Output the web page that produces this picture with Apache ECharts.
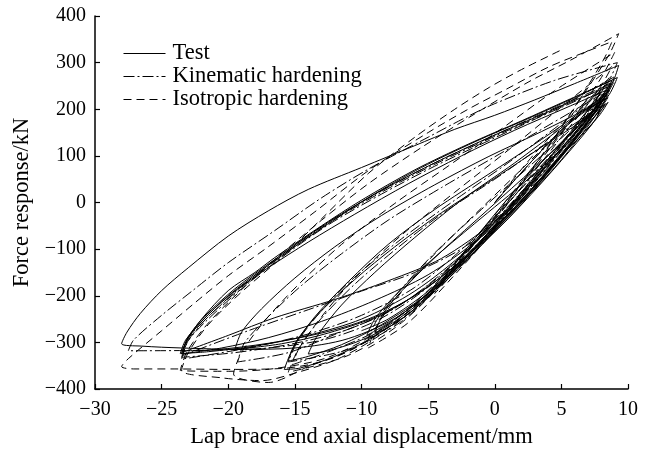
<!DOCTYPE html>
<html>
<head>
<meta charset="utf-8">
<script src="https://cdn.jsdelivr.net/npm/echarts@6/dist/echarts.min.js"></script>
<style>
  html, body { margin: 0; padding: 0; background: #fff; }
  #chart { width: 645px; height: 449px; }
</style>
</head>
<body>
<div id="chart"></div>
<script>
// Axis ticks
const xTicks = [-30, -25, -20, -15, -10, -5, 0, 5, 10];
const yTicks = [-400, -300, -200, -100, 0, 100, 200, 300, 400];

// Series names
const seriesNames = ['Test', 'Kinematic hardening', 'Isotropic hardening'];

// Measured hysteresis (displacement mm, force kN)
const testCurve = [
  [0,0],[2.5,80],[5,155],[7,200],[8,218],
  [7.2,180],[5.5,115],[3,30],[0.5,-45],[-2,-115],[-3.5,-160],
  [-2.8,-125],[-1,-60],[1.5,25],[4.5,115],[7,185],[8.2,222],
  [7.3,185],[5,100],[2,5],[-1.5,-100],[-5,-200],[-7.5,-255],[-9,-280],
  [-8.3,-235],[-6.5,-175],[-4,-105],[-0.5,-15],[3,75],[6,155],[8.3,228],
  [7.2,180],[4.5,85],[1,-30],[-3,-150],[-7,-250],[-10,-295],[-12.5,-318],[-14,-325],
  [-13.3,-285],[-11.5,-220],[-9,-150],[-6,-75],[-2.5,5],[1.5,85],[5,160],[8.4,232],
  [7.5,195],[5,105],[2,5],[-2,-110],[-6,-228],[-9.6,-296],[-12,-330],[-14.6,-355],[-15.8,-358],
  [-15.1,-310],[-13.5,-245],[-11,-170],[-8,-90],[-4.5,-15],[-0.5,60],[3.5,135],[7,205],[8.6,240],
  [8,205],[6.5,145],[4.5,75],[2,0],[-1.5,-85],[-5,-155],[-9,-210],[-13,-255],[-17,-290],[-20.5,-312],[-23.5,-325],
  [-23.1,-295],[-22,-250],[-20,-189],[-18,-150],[-16.5,-118],[-13,-50],[-10,5],[-6,70],[-2,125],[2,175],[5.5,220],[8.8,262],
  [8.2,222],[6.5,155],[4,65],[1,-30],[-3,-140],[-7,-240],[-11,-292],[-15,-312],[-19,-315],[-23.5,-312],[-26.5,-308],[-28,-303],
  [-27.6,-278],[-26.6,-238],[-25,-189],[-23,-140],[-20,-72],[-17,-18],[-14,28],[-10,75],[-6,122],[-3,157],[0,187],[3,220],[6,255],[9.3,294],
  [8.8,255],[7,185],[4.5,100],[1.5,5],[-2,-100],[-6,-190],[-10,-250],[-14,-285],[-18,-308],[-21.5,-320],[-23.6,-324],
  [-23.2,-295],[-22,-255],[-20,-200],[-17,-135],[-13.5,-65],[-9.5,10],[-5.5,75],[-1.5,130],[2.5,180],[6,225],[9.2,268],
  [8.6,232],[6.5,155],[4,65],[1,-35],[-2.5,-125],[-6,-200],[-9.5,-250],[-13,-280],[-17,-302],[-21,-316],[-23.4,-318],
  [-23,-288],[-21.8,-245],[-19.5,-185],[-16.5,-122],[-13,-52],[-9,18],[-5,78],[-1,132],[3,182],[6.5,225],[8.7,250],
  [7.8,205],[5.5,120],[2.5,20],[-1,-85],[-4.5,-170],[-8.5,-240],[-12.5,-280],[-16,-303],[-19.5,-315],
  [-19,-278],[-17.5,-228],[-15,-162],[-12,-95],[-8.5,-28],[-4.5,38],[-0.5,98],[3.5,152],[7,202],[8.5,225],
  [7.5,185],[5,100],[2,5],[-1.5,-100],[-5,-195],[-8.5,-262],[-11.5,-305],[-14,-330],[-15.5,-340],
  [-14.9,-298],[-13.2,-238],[-10.5,-165],[-7.5,-95],[-4,-22],[0,52],[4,128],[7.5,192],[8.3,212],
  [7.3,168],[5,90],[2,-5],[-1.5,-105],[-4.5,-185],[-7.5,-250],[-9.6,-285],
  [-9,-250],[-7.5,-200],[-5,-130],[-1.5,-45],[2.5,50],[6,140],[8.5,215],
  [7.8,185],[5.5,115],[3,45],[0,-40],[-4,-120],[-8,-168],[-12,-208],[-16.5,-247],[-20,-285],[-23.5,-322],
  [-23,-290],[-21.5,-240],[-19.5,-190],[-17,-140],[-14,-85],[-10.5,-25],[-6.5,40],[-2.5,100],[1.5,155],[5.5,205],[8.3,240],
  [7.5,200],[5,115],[2,15],[-1.5,-95],[-5,-190],[-8,-250],[-10,-275]
];

// Kinematic hardening model
const kinematicCurve = [
  [0,0],[3,95],[6,180],[8,225],
  [7,182],[4.5,95],[1.5,-5],[-1.5,-105],[-4,-178],
  [-3,-138],[-0.5,-52],[2.5,48],[5.5,142],[8.3,235],
  [7,180],[4,85],[0.5,-35],[-3,-145],[-6.5,-240],[-9.5,-292],
  [-8.8,-250],[-7,-185],[-4.5,-108],[-1,-15],[2.5,75],[6,165],[8.5,245],
  [7.5,200],[4.5,100],[1,-20],[-3,-145],[-7,-255],[-11,-315],[-15.5,-342],
  [-14.8,-298],[-13,-232],[-10.5,-160],[-7,-78],[-3,5],[1,85],[5,170],[8.7,255],
  [7.5,205],[5,125],[2,30],[-2,-88],[-6,-182],[-10,-242],[-14,-282],[-18.5,-312],[-23.5,-336],
  [-23,-296],[-21.5,-245],[-19,-182],[-16,-115],[-12.5,-45],[-8.5,22],[-4.5,82],[0,142],[4.5,200],[9,270],
  [8,228],[6,155],[3,55],[-0.5,-55],[-4.5,-170],[-8.5,-248],[-12.5,-292],[-17,-312],[-22,-317],[-27.5,-318],
  [-27.1,-295],[-25,-242],[-22.5,-185],[-20,-129],[-16.5,-60],[-13,10],[-9.4,73],[-5,140],[-2,185],[0,212],[4.5,262],[9.2,300],
  [8.5,258],[6.5,180],[4,90],[1,-15],[-3,-128],[-7,-218],[-11,-272],[-15,-302],[-19.5,-322],[-23.5,-332],
  [-23,-296],[-21.5,-250],[-19,-185],[-16,-118],[-12.5,-48],[-8.5,18],[-4.5,78],[-0.5,132],[3.5,185],[7,230],[9,262],
  [8.2,222],[6,145],[3,50],[-0.5,-58],[-4,-155],[-8,-235],[-12,-283],[-15.5,-322],[-19.3,-342],
  [-18.8,-302],[-17,-245],[-14.5,-178],[-11.5,-110],[-8,-38],[-4,32],[0,98],[4,165],[8,232],[8.6,242],
  [7.5,198],[5,110],[2,10],[-1.5,-95],[-5,-195],[-8.5,-270],[-12,-315],[-15.2,-348],
  [-14.6,-308],[-13,-248],[-10.5,-175],[-7.5,-102],[-4,-25],[0,50],[4,130],[8,208],
  [7.5,175],[5,100],[2,10],[-2,-90],[-6,-150],[-10,-190],[-14,-230],[-18.5,-275],[-23.4,-328],
  [-23,-292],[-21.5,-245],[-19,-180],[-16,-112],[-12.5,-42],[-8.5,25],[-4.5,85],[-0.5,138],[3.5,190],[7.5,240],[8.8,255]
];

// Isotropic hardening model
const isotropicCurve = [
  [0,0],[3,105],[6,195],[8,245],
  [7,198],[4.5,110],[1.5,5],[-1.5,-100],[-4.5,-195],
  [-3.5,-148],[-1,-62],[2,45],[5,150],[8.3,252],
  [7.2,202],[4.5,105],[1,-25],[-3,-155],[-6.5,-258],[-9.5,-312],
  [-8.8,-262],[-7,-192],[-4.5,-110],[-1,-12],[2.5,85],[6,185],[8.6,268],
  [7.5,218],[4.5,110],[1,-15],[-3,-145],[-7,-258],[-11,-328],[-15.5,-364],
  [-14.8,-318],[-13,-245],[-10.5,-162],[-7,-70],[-3,22],[1,112],[5,205],[8.8,292],
  [7.8,242],[5,140],[1.5,15],[-2.5,-120],[-6.5,-235],[-10.5,-312],[-14,-352],[-17,-386],[-19.6,-368],
  [-19,-322],[-17.3,-255],[-14.8,-178],[-11.5,-90],[-7.5,-2],[-3.5,78],[0.5,158],[4.5,240],[9,322],
  [8,268],[6,185],[3,75],[-0.5,-50],[-4.5,-175],[-8.5,-272],[-12.5,-332],[-16.5,-356],[-20,-362],[-23.6,-360],
  [-23.1,-320],[-21.6,-262],[-19.3,-195],[-16.5,-122],[-13,-38],[-9.5,40],[-5.5,118],[-1.5,190],[2.5,258],[6,310],[9.3,362],
  [8.6,318],[6.5,225],[3.5,100],[0,-30],[-4,-165],[-8,-268],[-12,-332],[-16,-356],[-20,-358],[-24,-357],[-27,-357],[-28,-352],
  [-27.5,-335],[-25,-275],[-22.5,-215],[-20,-157],[-17,-95],[-13.5,-20],[-9.4,70],[-5,150],[-2,200],[1,245],[4,290],[7,325],[8.8,345],
  [8.2,308],[6.5,228],[4,118],[0.5,-15],[-3.5,-155],[-7.5,-262],[-11.5,-332],[-15,-366],[-17.5,-382],[-20.5,-376],[-23.5,-360],
  [-23,-322],[-21.5,-262],[-19,-192],[-16,-118],[-13,-35],[-9.5,62],[-6,140],[-3,200],[-0.4,247],[2,285],[5.2,330]
];

const serifFont = '"Liberation Serif", "Times New Roman", serif';
const minus = v => String(v).replace('-', '\u2212');

const chart = echarts.init(document.getElementById('chart'), null, { renderer: 'canvas' });

const lineSeries = (name, data, type) => ({
  name: name,
  type: 'line',
  data: data,
  showSymbol: false,
  symbol: 'none',
  legendIcon: 'none',
  smooth: 0.3,
  animation: false,
  lineStyle: { color: '#000', width: 1, type: type },
  itemStyle: { color: '#000' }
});

chart.setOption({
  backgroundColor: '#fff',
  animation: false,
  grid: { left: 95, right: 17, top: 16, bottom: 60, outerBoundsMode: 'none', containLabel: false },
  legend: {
    left: 118,
    top: 37,
    orient: 'vertical',
    itemWidth: 42,
    itemHeight: 12,
    itemGap: 0,
    itemStyle: { opacity: 0 },
    lineStyle: { width: 1 },
    textStyle: { fontFamily: serifFont, fontSize: 22.5, color: '#000', padding: [0, 0, 0, 2] },
    data: seriesNames.map(n => ({ name: n }))
  },
  xAxis: {
    type: 'value',
    min: -30, max: 10, interval: 5,
    name: 'Lap brace end axial displacement/mm',
    nameLocation: 'middle',
    nameGap: 37,
    nameTextStyle: { fontFamily: serifFont, fontSize: 22.5, color: '#000' },
    axisLine: { onZero: false, lineStyle: { color: '#000', width: 1.5 } },
    axisTick: { inside: true, length: 5, lineStyle: { color: '#000', width: 1.2 } },
    axisLabel: { fontFamily: serifFont, fontSize: 20, color: '#000', margin: 11, formatter: v => xTicks.includes(v) ? minus(v) : '' },
    splitLine: { show: false }
  },
  yAxis: {
    type: 'value',
    min: -400, max: 400, interval: 100,
    name: 'Force response/kN',
    nameLocation: 'middle',
    nameGap: 61,
    nameTextStyle: { fontFamily: serifFont, fontSize: 22.5, color: '#000' },
    axisLine: { show: true, onZero: false, lineStyle: { color: '#000', width: 1.5 } },
    axisTick: { show: true, inside: true, length: 5, lineStyle: { color: '#000', width: 1.2 } },
    axisLabel: { fontFamily: serifFont, fontSize: 20, color: '#000', margin: 9, formatter: v => yTicks.includes(v) ? minus(v) : '' },
    splitLine: { show: false }
  },
  series: [
    lineSeries(seriesNames[0], testCurve, 'solid'),
    lineSeries(seriesNames[1], kinematicCurve, [11, 3, 2, 3]),
    lineSeries(seriesNames[2], isotropicCurve, [8, 5])
  ]
});
</script>
</body>
</html>
